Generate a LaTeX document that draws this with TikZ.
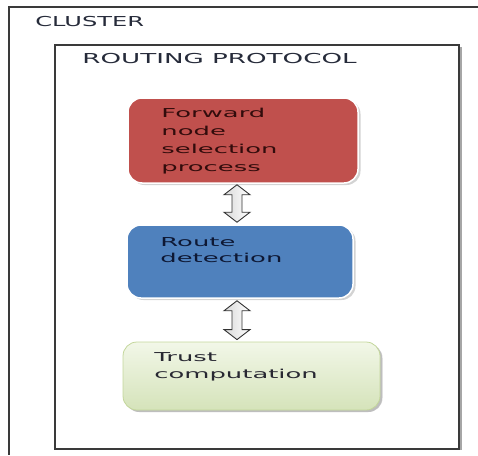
\documentclass[tikz,border=0pt]{standalone}
\usepackage{fontspec}
\setmainfont{DejaVu Sans}
\usetikzlibrary{shadows,calc}

\definecolor{frameline}{HTML}{3A3A3A}
\definecolor{redfill}{HTML}{C0504D}
\definecolor{bluefill}{HTML}{4F81BD}
\definecolor{greentop}{HTML}{F2F7E8}
\definecolor{greenbot}{HTML}{D5E3BA}
\definecolor{greenline}{HTML}{C3D69B}
\definecolor{titletext}{HTML}{262B3A}

\tikzset{
  framebox/.style={draw=frameline, line width=1.3pt},
  title/.style={anchor=north west, inner sep=0pt, text=titletext,
    font=\fontsize{13.7}{16}\selectfont, transform shape},
  stage/.style={rectangle, rounded corners=14pt, line width=1.5pt, draw=white,
    drop shadow={shadow xshift=2.5pt, shadow yshift=-2pt, opacity=0.35, fill=gray}},
  stagetext/.style={anchor=north west, inner sep=0pt, align=left,
    xscale=2.1, transform shape},
  link/.style={draw=black!80, line width=0.9pt, line join=miter,
    left color=gray!30, right color=white}
}

% hollow two-headed arrow from tip #1 (top) to tip #2 (bottom)
\newcommand\twowaylink[2]{%
  \path[link] let \p1=(#1), \p2=(#2) in
    (#1) -- (\x1+13pt,\y1-10pt) -- (\x1+5pt,\y1-10pt) -- (\x1+5pt,\y2+10pt)
    -- (\x1+13pt,\y2+10pt) -- (\x1,\y2) -- (\x1-13pt,\y2+10pt)
    -- (\x1-5pt,\y2+10pt) -- (\x1-5pt,\y1-10pt) -- (\x1-13pt,\y1-10pt) -- cycle;}

\begin{document}
\begin{tikzpicture}[x=1pt, y=-1pt]
  \useasboundingbox (0,0) rectangle (478,455);

  % cluster frame (open to the right and bottom)
  \draw[framebox] (478,7) -- (9,7) -- (9,455);
  \node[title, xscale=1.76] (cluster) at (35,16) {CLUSTER};

  % routing protocol frame with a shaded right edge
  \draw[gray!70, line width=2.5pt] (461,47) -- (461,450);
  \draw[framebox, line width=1.1pt] (55,45) rectangle (459,449);
  \node[title, xscale=1.91] (routing) at (82,53) {ROUTING PROTOCOL};

  % the three stages
  \node[stage, fill=redfill, minimum width=230pt, minimum height=85pt]
    (forward) at (243,140.5) {};
  \node[stage, fill=bluefill, minimum width=226pt, minimum height=73pt]
    (route) at (240,261.5) {};
  \node[stage, draw=greenline, line width=0.8pt, top color=greentop, bottom color=greenbot,
    minimum width=257pt, minimum height=68pt,
    drop shadow={shadow xshift=2pt, shadow yshift=-2pt, opacity=0.25, fill=gray}]
    (trust) at (251.5,376) {};

  \node[stagetext, text={rgb,255:red,50;green,12;blue,12},
    font=\fontsize{12.3}{18}\selectfont] (forwardtxt) at (161,107.5)
    {Forward\\node\\selection\\process};
  \node[stagetext, text={rgb,255:red,14;green,24;blue,52},
    font=\fontsize{12.3}{16.5}\selectfont] (routetxt) at (160,237)
    {Route\\detection};
  \node[stagetext, text={rgb,255:red,40;green,40;blue,50},
    font=\fontsize{12.3}{16.5}\selectfont] (trusttxt) at (154,352.5)
    {Trust\\computation};

  % two-way links between the stages
  \coordinate (link1top) at ([xshift=-6pt, yshift=-1pt]forward.south);
  \coordinate (link1bot) at ([xshift=-3pt, yshift=2pt]route.north);
  \coordinate (link2top) at ([xshift=-3pt, yshift=-2pt]route.south);
  \coordinate (link2bot) at ([xshift=-14.5pt, yshift=2pt]trust.north);
  \twowaylink{link1top}{link1bot}
  \twowaylink{link2top}{link2bot}
\end{tikzpicture}
\end{document}
